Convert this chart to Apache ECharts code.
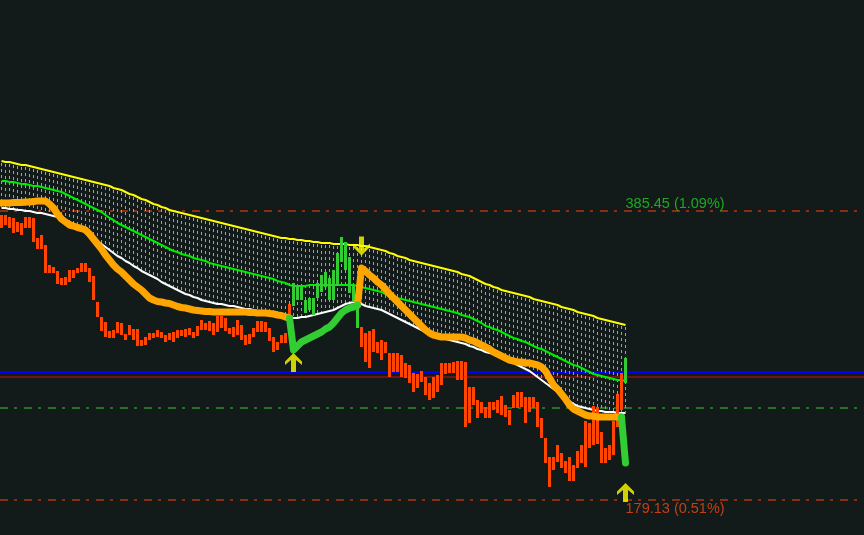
<!DOCTYPE html>
<html><head><meta charset="utf-8">
<script src="https://cdn.jsdelivr.net/npm/echarts@6/dist/echarts.min.js"></script>
<style>html,body{margin:0;padding:0;background:#121a1a;}#c{width:864px;height:535px;}</style>
</head><body><div id="c"></div>
<script>
// Price-depth values (axis is inverted: larger = lower on screen)
const upperBand = [
161,162,162,163,164,165,165,166,167,168,
169,170,171,172,173,174,175,176,177,178,
179,180,181,182,183,184,185,186,188,189,
190,192,194,195,197,199,200,202,204,205,
207,208,210,211,212,213,214,215,216,217,
218,219,220,221,222,223,224,225,226,227,
228,229,230,231,232,233,234,235,236,237,
238,238,239,239,240,240,241,241,242,242,
243,243,243,244,244,244,244,245,245,245,
246,246,247,248,249,250,251,253,254,256,
257,258,260,261,262,263,264,265,266,267,
268,269,270,271,272,274,275,276,278,280,
282,284,285,287,288,290,291,292,293,294,
295,296,297,299,300,301,302,303,304,305,
307,308,309,310,312,313,314,315,316,318,
319,320,321,322,323,324,325];
const middleBand = [
181,181,182,182,183,184,184,185,186,186,
187,188,189,190,191,192,194,196,198,200,
202,204,206,208,210,212,215,218,220,223,
225,227,229,231,233,235,237,239,241,243,
245,247,249,251,252,254,255,256,258,259,
260,261,263,264,265,266,267,268,269,270,
271,272,273,274,275,276,277,278,279,281,
282,283,285,286,286,286,286,285,285,285,
285,285,285,285,285,285,285,285,285,286,
287,288,289,290,291,292,294,295,296,298,
299,300,301,302,303,304,305,306,307,308,
309,310,311,312,313,315,316,317,319,321,
323,326,327,329,330,332,334,336,338,339,
341,342,344,346,348,349,351,353,355,357,
359,361,363,365,366,368,370,372,374,375,
376,377,378,379,380,380,381];
const lowerBand = [
208,208,209,209,210,210,211,211,212,213,
213,214,215,216,217,218,220,222,224,226,
229,232,235,238,241,244,247,250,253,256,
258,261,263,266,268,271,273,275,277,279,
282,284,286,288,290,292,294,295,297,298,
300,301,302,303,304,304,305,306,306,307,
308,309,309,310,311,312,313,314,315,316,
317,317,318,318,318,317,317,316,315,314,
313,312,311,310,308,306,304,303,302,302,
304,306,307,308,309,310,312,314,316,318,
320,322,324,326,328,330,332,334,335,337,
338,339,340,341,342,343,344,346,347,349,
350,352,353,354,356,357,359,361,363,365,
367,369,371,374,377,380,383,386,389,392,
395,398,401,404,406,407,408,409,410,411,
411,412,412,412,413,413,413];
const maDown = [
203,203,203,202.5,202.5,202.5,202,202,201.5,201,
201,201,204,208,214,219,222,225,226,227.5,
228.5,230,234,239,244,249,255,260,265,269,
272,276,280,284,287,290,294,298,300,301.5,
302,303,303.5,305,306.5,307.5,308,309,310,310.5,
311,311.5,311.5,312,312,312,312,312,312,312,
312,312,312.5,312.5,313,313,313,313.5,314,315,
315.5,317,318,null,null,null,null,null,null,null,
null,null,null,null,null,null,null,null,null,305,
268,271,275,278,282,285,289,294,298,302,
306,310,314,318,322,326,330,333,335,336,
337,337,337,337,337,337,338,340,341,343,
345,347,349,352,354,356,358,360,361,362,
362,363,363,364,365,367,371,378,385,389,
394,399,405,409,411,413,415,416,416,417,
417,417,417,417,417,417,null];
const maUp = [
null,null,null,null,null,null,null,null,null,null,
null,null,null,null,null,null,null,null,null,null,
null,null,null,null,null,null,null,null,null,null,
null,null,null,null,null,null,null,null,null,null,
null,null,null,null,null,null,null,null,null,null,
null,null,null,null,null,null,null,null,null,null,
null,null,null,null,null,null,null,null,null,null,
null,null,318,350,346,342,340,338,336,334,
332,329,327,323,318,313,310,308,307,305,
null,null,null,null,null,null,null,null,null,null,
null,null,null,null,null,null,null,null,null,null,
null,null,null,null,null,null,null,null,null,null,
null,null,null,null,null,null,null,null,null,null,
null,null,null,null,null,null,null,null,null,null,
null,null,null,null,null,null,null,null,null,null,
null,null,null,null,null,417,463];
const histTop = [
215,215,217,218,222,223,217,217,218,238,
235,245,265,267,271,278,277,270,270,268,
263,263,268,276,302,317,322,331,330,322,
323,334,325,329,329,340,337,333,333,330,
332,335,333,332,330,330,329,328,332,326,
320,323,321,323,316,316,318,328,327,320,
325,335,334,328,321,321,322,328,337,342,
335,333,304,283,285,287,300,298,298,283,
275,272,278,270,253,237,242,257,285,305,
327,333,331,329,342,340,342,353,353,353,
355,363,365,373,374,371,377,383,377,375,
363,363,363,362,361,361,362,387,387,400,
402,407,402,402,400,396,405,410,395,392,
392,397,397,397,402,418,438,457,457,445,
453,461,457,465,451,445,421,423,406,407,
432,448,445,421,394,373,358];
const histBottom = [
228,225,228,233,232,235,228,228,242,249,
249,273,273,273,284,285,285,282,278,273,
272,272,282,300,317,331,337,338,338,333,
335,340,335,340,346,346,345,340,338,337,
338,342,340,342,338,336,337,335,338,336,
330,330,331,335,332,328,331,334,337,335,
340,345,344,337,332,332,332,341,352,350,
343,343,318,306,300,300,313,310,315,298,
292,287,300,300,285,262,270,293,302,328,
347,362,368,352,353,360,353,377,372,372,
377,378,383,392,388,382,395,400,398,392,
385,374,373,373,380,380,427,423,405,418,
413,418,418,410,413,415,417,425,408,408,
407,423,412,408,427,438,463,487,470,462,
468,473,481,481,468,463,467,448,445,444,
463,463,460,455,427,410,383];
const upBars = [73,74,75,76,77,78,79,80,81,82,83,84,85,86,87,88,89,156];
const levelTop = 211, levelGreen = 408, levelBottom = 500, levelBlue = 372, levelRed = 377;
const labelTop = '385.45 (1.09%)';
const labelBottom = '179.13 (0.51%)';
const arrowsUp = [[73, 362.5], [156, 492.5]];
const arrowsDown = [[90, 246]];

const N = upperBand.length;
const xMin = -0.375, xMax = xMin + 216;
const series = [];
const dashDot = [8, 6, 3, 7];
function hline(level, color, type, width) {
  series.push({type:'line', data:[[xMin, level],[xMax, level]], symbol:'none', silent:true, z:1,
    lineStyle:{color:color, width:width, type:type}});
}
hline(levelTop, '#ff4500', dashDot, 1);
hline(levelGreen, '#32cd32', dashDot, 1);
hline(levelBottom, '#ff4500', dashDot, 1);
hline(levelBlue, '#0000ff', 'solid', 2);
hline(levelRed, '#c81010', 'solid', 1);

// hatch between upper and lower band
series.push({type:'custom', z:2, silent:true,
  data: upperBand.map((u, i) => [i, u, lowerBand[i]]),
  renderItem(params, api) {
    const a = api.coord([api.value(0), api.value(1)]);
    const b = api.coord([api.value(0), api.value(2)]);
    const x = Math.floor(a[0]) + 0.5;
    return {type:'line', shape:{x1:x, y1:a[1]+2, x2:x, y2:b[1]-1},
      style:{stroke:'#f4806c', lineWidth:1, lineDash:[3,3]}};
  }});

function band(data, color, w, z) {
  series.push({type:'line', data:data.map((v,i)=>[i,v]), symbol:'none', silent:true, z:z,
    lineStyle:{color:color, width:w}, connectNulls:false});
}
band(upperBand, '#ffff00', 2, 3);
band(middleBand, '#00ee00', 2, 3);
band(lowerBand, '#ffffff', 2, 3);

series.push({type:'custom', z:4, silent:true,
  data: histTop.map((t, i) => [i, t, histBottom[i], upBars.indexOf(i) >= 0 ? 1 : 0]),
  renderItem(params, api) {
    const a = api.coord([api.value(0), api.value(1)]);
    const b = api.coord([api.value(0), api.value(2)]);
    const w = Math.round(api.size([1, 0])[0] * 0.75);
    return {type:'rect', shape:{x: Math.floor(a[0] - 1.5), y: Math.round(a[1]), width: w, height: Math.round(b[1]-a[1])},
      style:{fill: api.value(3) ? '#32cd32' : '#ff4500'}};
  }});

series.push({type:'line', data:maDown.map((v,i)=>[i,v]), symbol:'none', silent:true, z:5,
  lineStyle:{color:'#ffa500', width:7, cap:'round', join:'round'}});
series.push({type:'line', data:maUp.map((v,i)=>[i,v]), symbol:'none', silent:true, z:5,
  lineStyle:{color:'#32cd32', width:7, cap:'round', join:'round'}});

const upPath = 'path://M8.5,0L17,8.5L17,12L11,7L11,19L6,19L6,7L0,12L0,8.5Z';
const dnPath = 'path://M6,0L11,0L11,12L17,7L17,10.5L8.5,19L0,10.5L0,7L6,12Z';
series.push({type:'scatter', data:arrowsUp, symbol:upPath, symbolSize:[17,19], z:6, silent:true,
  itemStyle:{color:'#ffff00'}});
series.push({type:'scatter', data:arrowsDown, symbol:dnPath, symbolSize:[17,19], z:6, silent:true,
  itemStyle:{color:'#ffff00'}});

const font = '"Liberation Sans", Arial, sans-serif';
series.push({type:'scatter', data:[[N-1, levelTop]], symbolSize:0, z:7, silent:true,
  label:{show:true, formatter:labelTop, position:'inside', align:'left', verticalAlign:'bottom', offset:[0,0],
    color:'#22cc22', fontSize:14.5, fontFamily:font}});
series.push({type:'scatter', data:[[N-1, levelBottom]], symbolSize:0, z:7, silent:true,
  label:{show:true, formatter:labelBottom, position:'inside', align:'left', verticalAlign:'top', offset:[0,1],
    color:'#f04a12', fontSize:14.5, fontFamily:font}});

const chart = echarts.init(document.getElementById('c'));
chart.setOption({
  backgroundColor:'#121a1a',
  animation:false,
  grid:{left:0, right:0, top:0, bottom:0},
  xAxis:{type:'value', min:xMin, max:xMax, show:false},
  yAxis:{type:'value', min:0, max:535, inverse:true, show:false},
  series: series
});
</script></body></html>
